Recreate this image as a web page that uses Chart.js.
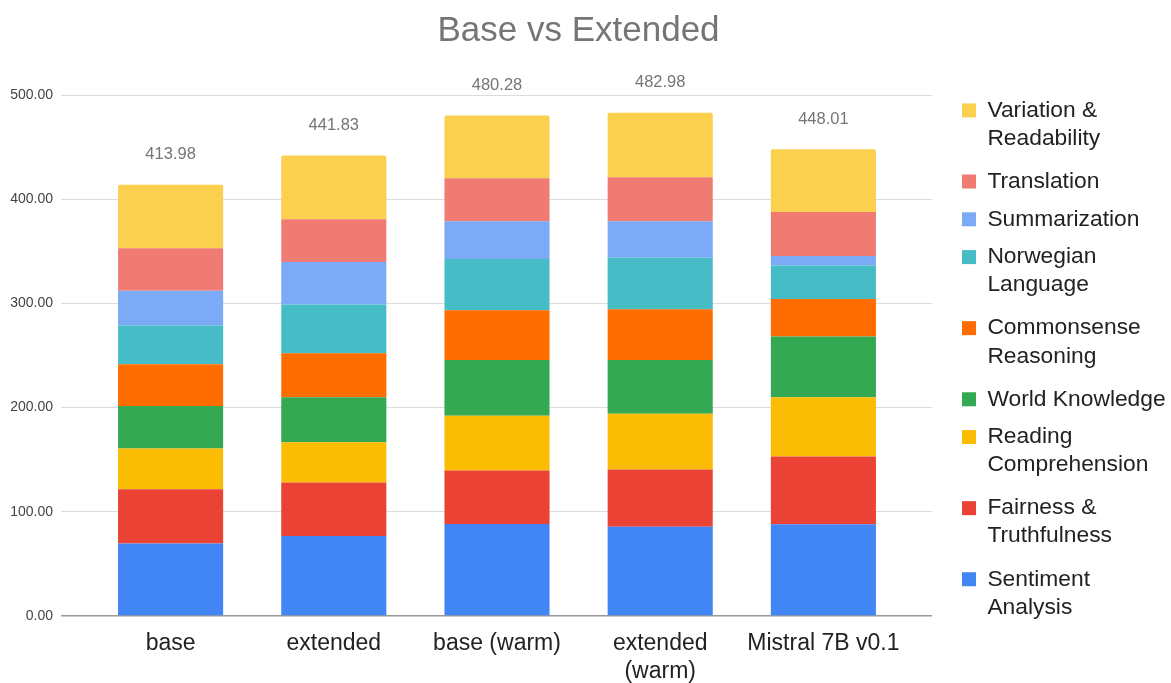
<!DOCTYPE html>
<html>
<head>
<meta charset="utf-8">
<script src="https://cdn.jsdelivr.net/npm/chart.js@4.4.1/dist/chart.umd.min.js"></script>
<style>
  html, body { margin: 0; padding: 0; background: #ffffff; }
  #wrap { width: 1171px; height: 683px; }
</style>
</head>
<body>
<div id="wrap"><canvas id="chart" width="1171" height="683"></canvas></div>
<script>
// Model variants along the x axis
const categories = ['base', 'extended', 'base (warm)', ['extended', '(warm)'], 'Mistral 7B v0.1'];

// Scores per task group, bottom of the stack first
const sentimentAnalysis      = [69.60, 76.80, 88.30, 85.70, 88.00];
const fairnessTruthfulness   = [52.10, 51.20, 51.30, 54.90, 65.00];
const readingComprehension   = [39.00, 38.70, 52.60, 53.60, 56.90];
const worldKnowledge         = [40.90, 43.20, 53.60, 51.60, 58.30];
const commonsenseReasoning   = [39.90, 42.30, 47.70, 48.70, 36.10];
const norwegianLanguage      = [37.40, 46.70, 49.00, 49.30, 32.00];
const summarization          = [33.20, 40.90, 36.40, 35.10, 9.30];
const translation            = [40.90, 41.00, 41.20, 42.20, 42.20];
const variationReadability   = [60.98, 61.03, 60.18, 61.88, 60.21];

// Legend names (split over lines) and colours, same order as the stack
const seriesNames = [
  ['Sentiment', 'Analysis'],
  ['Fairness &', 'Truthfulness'],
  ['Reading', 'Comprehension'],
  'World Knowledge',
  ['Commonsense', 'Reasoning'],
  ['Norwegian', 'Language'],
  'Summarization',
  'Translation',
  ['Variation &', 'Readability']
];
const seriesValues = [
  sentimentAnalysis, fairnessTruthfulness, readingComprehension, worldKnowledge,
  commonsenseReasoning, norwegianLanguage, summarization, translation, variationReadability
];
const seriesColors = ['#4285F4', '#EA4335', '#FBBC04', '#34A853', '#FF6D01', '#46BDC6', '#7BAAF7', '#F07B72', '#FCD04F'];

// Value axis
const yMin = 0, yMax = 500, yStep = 100;

const FONT = '"Liberation Sans", Arial, Helvetica, sans-serif';
Chart.defaults.font.family = FONT;

const gridColor = c => (c.tick && c.tick.value === 0) ? '#9a9a9a' : '#dcdcdc';
const gridWidth = c => (c.tick && c.tick.value === 0) ? 1.5 : 1;

// Writes the stack total above each column
const totalLabels = {
  id: 'totalLabels',
  afterDatasetsDraw(chart) {
    const { ctx, scales: { x, y } } = chart;
    ctx.save();
    ctx.font = '16.5px ' + FONT;
    ctx.fillStyle = '#757575';
    ctx.textAlign = 'center';
    ctx.textBaseline = 'middle';
    categories.forEach((_, i) => {
      const total = chart.data.datasets.reduce((s, d) => s + d.data[i], 0);
      ctx.fillText(total.toFixed(2), x.getPixelForValue(i), y.getPixelForValue(total) - 30);
    });
    ctx.restore();
  }
};

const datasets = seriesValues.map((vals, k) => ({
  label: seriesNames[k],
  data: vals,
  backgroundColor: seriesColors[k],
  borderWidth: 0,
  borderRadius: k === seriesValues.length - 1 ? { topLeft: 2, topRight: 2 } : 0,
  barPercentage: 0.644,
  categoryPercentage: 1.0,
  yAxisID: 'y'
}));

new Chart(document.getElementById('chart'), {
  type: 'bar',
  data: { labels: categories, datasets },
  plugins: [totalLabels],
  options: {
    responsive: false,
    animation: false,
    devicePixelRatio: 1,
    // the title is centred over the box from -14 to the right edge
    layout: { padding: { left: -14, right: 0, top: 0, bottom: 0 } },
    plugins: {
      title: {
        display: true,
        text: 'Base vs Extended',
        color: '#757575',
        font: { size: 35, weight: 'normal', lineHeight: 1.2 },
        padding: { top: 10, bottom: 43 }
      },
      legend: {
        position: 'right',
        align: 'start',
        reverse: true,
        maxWidth: 224,
        title: { display: true, text: '', font: { size: 10, lineHeight: 1 }, padding: { top: 74, bottom: 0 } },
        labels: {
          boxWidth: 14,
          boxHeight: 14,
          padding: 15,
          color: '#222222',
          font: { size: 22.8, lineHeight: 1.23 }
        }
      },
      tooltip: { enabled: false }
    },
    scales: {
      x: {
        stacked: true,
        grid: { display: false, drawTicks: false },
        border: { display: false },
        ticks: { padding: 14, color: '#222222', font: { size: 23, lineHeight: 1.22 }, maxRotation: 0 },
        afterFit: s => { s.height = 67; }
      },
      y: {
        stacked: true,
        min: yMin,
        max: yMax,
        ticks: {
          stepSize: yStep,
          padding: 8,
          color: '#444444',
          font: { size: 14 },
          callback: v => Number(v).toFixed(2)
        },
        grid: { color: gridColor, tickColor: gridColor, lineWidth: gridWidth, tickLength: 28 },
        border: { display: false },
        afterFit: s => { s.width = 103; }
      },
      y2: {
        position: 'right',
        min: yMin,
        max: yMax,
        ticks: { display: false, stepSize: yStep },
        grid: { drawOnChartArea: false, color: gridColor, tickColor: gridColor, lineWidth: gridWidth, tickLength: 27 },
        border: { display: false },
        afterFit: s => { s.width = 42; }
      }
    }
  }
});
</script>
</body>
</html>
